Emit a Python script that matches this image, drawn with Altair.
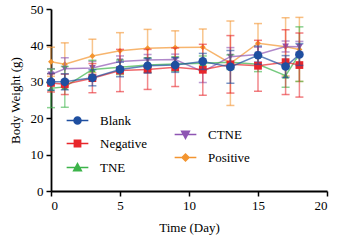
import altair as alt
import pandas as pd

days = [0, 1, 3, 5, 7, 9, 11, 13, 15, 17, 18]

series_names = ["Blank", "Negative", "TNE", "CTNE", "Positive"]
series_colors = ["#1f4fa0", "#e8262b", "#3cb44a", "#8e55b3", "#f39530"]
series_shapes = ["circle", "square", "triangle-up", "triangle-down", "diamond"]
series_sizes = [75, 60, 45, 45, 35]

blank_mean = [30.0, 30.0, 31.1, 33.4, 34.4, 34.6, 35.6, 34.1, 37.3, 34.2, 37.5]
blank_sd = [2.3, 2.2, 2.2, 2.0, 2.0, 2.0, 2.2, 4.5, 2.5, 3.0, 3.0]
negative_mean = [29.7, 29.3, 31.0, 33.1, 33.4, 34.0, 33.3, 34.8, 34.4, 35.4, 34.6]
negative_sd = [2.5, 2.8, 4.0, 5.8, 5.5, 5.3, 7.0, 7.9, 7.0, 8.9, 8.8]
tne_mean = [28.2, 28.6, 33.4, 34.0, 34.6, 34.9, 35.1, 35.4, 34.8, 31.7, 37.6]
tne_sd = [5.3, 5.6, 2.5, 2.0, 2.0, 2.0, 2.0, 2.0, 2.0, 3.2, 7.5]
ctne_mean = [32.0, 33.6, 33.8, 35.6, 36.0, 36.1, 32.8, 36.9, 37.5, 39.7, 39.6]
ctne_sd = [1.6, 3.0, 1.8, 1.5, 1.5, 1.5, 3.0, 2.5, 2.0, 1.5, 1.5]
positive_mean = [35.5, 34.8, 37.1, 38.5, 39.2, 39.4, 39.5, 35.1, 40.6, 39.6, 38.9]
positive_sd = [4.0, 5.9, 4.6, 5.0, 5.2, 4.6, 5.0, 11.6, 5.4, 8.0, 8.8]

means = [blank_mean, negative_mean, tne_mean, ctne_mean, positive_mean]
sds = [blank_sd, negative_sd, tne_sd, ctne_sd, positive_sd]

x_ticks = [0, 5, 10, 15, 20]
y_ticks = [0, 10, 20, 30, 40, 50]

rows = []
for name, m, s in zip(series_names, means, sds):
    for d, mv, sv in zip(days, m, s):
        rows.append({"series": name, "day": d, "mean": mv, "lo": mv - sv, "hi": mv + sv})
df = pd.DataFrame(rows)

FONT = "Liberation Serif"

x_axis = alt.Axis(values=x_ticks, title="Time (Day)", format="d", labelOverlap=False)
y_axis = alt.Axis(values=y_ticks, title="Body Weight (g)", format="d", labelOverlap=False)
x_scale = alt.Scale(domain=[0, 20], nice=False)
y_scale = alt.Scale(domain=[0, 50], nice=False)


def X():
    return alt.X("day:Q", scale=x_scale, axis=x_axis)


def Y(field):
    return alt.Y(field + ":Q", scale=y_scale, axis=y_axis)


layers = []
order = [4, 3, 2, 1, 0]
for i in order:
    name = series_names[i]
    col = series_colors[i]
    base = alt.Chart(df).transform_filter(alt.datum.series == name)
    err = base.mark_rule(color=col, strokeWidth=1.5, opacity=0.55).encode(
        x=X(), y=Y("lo"), y2="hi:Q")
    cap_lo = base.mark_tick(color=col, orient="horizontal", size=8, thickness=1.5, opacity=0.6).encode(
        x=X(), y=Y("lo"))
    cap_hi = base.mark_tick(color=col, orient="horizontal", size=8, thickness=1.5, opacity=0.6).encode(
        x=X(), y=Y("hi"))
    line = base.mark_line(color=col, strokeWidth=1.5, opacity=0.7).encode(x=X(), y=Y("mean"))
    pts = base.mark_point(color=col, shape=series_shapes[i], filled=True, size=series_sizes[i],
                          opacity=1).encode(x=X(), y=Y("mean"))
    layers += [err, cap_lo, cap_hi, line, pts]

leg_paths = {
    "circle": "M-3.1,0H3.1M-1,0A1,1 0 1,1 1,0A1,1 0 1,1 -1,0Z",
    "square": "M-3.1,0H3.1M-0.9,-0.9H0.9V0.9H-0.9Z",
    "triangle-up": "M-3.1,0H3.1M0,-1.1L1.1,0.9H-1.1Z",
    "triangle-down": "M-3.1,0H3.1M0,1.1L1.1,-0.9H-1.1Z",
    "diamond": "M-3.1,0H3.1M0,-1L1,0L0,1L-1,0Z",
}


def legend_layer(idx, lx, ly):
    names = [series_names[k] for k in idx]
    cols = [series_colors[k] for k in idx]
    shps = [leg_paths[series_shapes[k]] for k in idx]
    leg = alt.Legend(orient="none", legendX=lx, legendY=ly, title=None,
                     labelFont=FONT, labelFontSize=13, labelColor="black",
                     symbolSize=49, symbolStrokeWidth=1.5, rowPadding=9,
                     labelOffset=16, padding=0, symbolOpacity=1)
    return alt.Chart(df).transform_filter(alt.datum.day < -100).mark_point(
        filled=False, strokeWidth=1.5, opacity=1).encode(
        x=X(), y=Y("mean"),
        color=alt.Color("series:N", scale=alt.Scale(domain=names, range=cols), legend=leg),
        fill=alt.Fill("series:N", scale=alt.Scale(domain=names, range=cols), legend=leg),
        shape=alt.Shape("series:N", scale=alt.Scale(domain=names, range=shps), legend=leg),
    )


layers.append(legend_layer([0, 1, 2], 20, 105))
layers.append(legend_layer([3, 4], 128, 119))

chart = alt.layer(*layers).resolve_scale(
    color="independent", fill="independent", shape="independent"
).properties(
    width=276, height=182,
    background="white",
    autosize=alt.AutoSizeParams(type="none"),
    padding={"left": 51, "top": 9, "right": 13, "bottom": 49},
).configure_view(stroke=None).configure_axis(
    grid=False, domainColor="black", domainWidth=1.8, tickColor="black", tickWidth=1.5,
    tickSize=5, labelFont=FONT, labelFontSize=13, labelColor="black", titleFont=FONT,
    titleFontSize=13, titleFontWeight="normal", titleColor="black", labelPadding=3,
).configure_axisY(titlePadding=8).configure_axisX(titlePadding=9)

chart.save("out.html", embed_options={"renderer": "svg", "actions": False})
